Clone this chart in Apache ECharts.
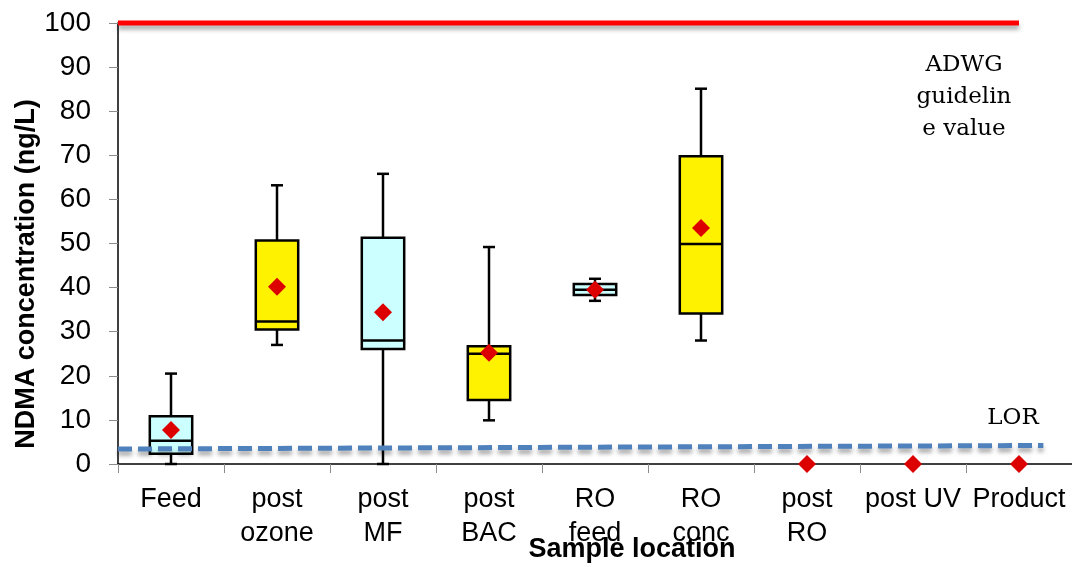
<!DOCTYPE html>
<html>
<head>
<meta charset="utf-8">
<script src="https://cdn.jsdelivr.net/npm/echarts@6/dist/echarts.min.js"></script>
<style>
	html,body{margin:0;padding:0;background:#fff;}
	#chart{width:1072px;height:567px;}
</style>
</head>
<body>
<div id="chart"></div>
<script>
// sample locations
var categories = ['Feed', 'post\nozone', 'post\nMF', 'post\nBAC', 'RO\nfeed', 'RO\nconc', 'post\nRO', 'post UV', 'Product'];

// box values (ng/L), only the first six locations have boxes
var whiskerLow  = [0,    27,   0,    9.9,  37,   28];
var quartile1   = [2.3,  30.5, 26.1, 14.5, 38.3, 34.1];
var medians     = [5.3,  32.3, 28,   25,   39.5, 49.9];
var quartile3   = [10.8, 50.7, 51.3, 26.7, 40.8, 69.8];
var whiskerHigh = [20.5, 63.2, 65.8, 49.2, 42,   85.1];

// mean of every location
var means = [7.7, 40.2, 34.4, 25.2, 39.5, 53.5, 0, 0, 0];

// guideline (ADWG) and limit of reporting lines, x in category index units
var adwgLine = [[-0.5, 100], [8.0, 100]];
var lorLine  = [[-0.5, 3.4], [8.23, 4.2]];

var yTicks = [0, 10, 20, 30, 40, 50, 60, 70, 80, 90, 100];

var boxFill = ['#ccffff', '#fff200'];

var boxData = [];
for (var i = 0; i < whiskerLow.length; i++) {
	boxData.push([i, whiskerLow[i], quartile1[i], medians[i], quartile3[i], whiskerHigh[i]]);
}

function renderBox(params, api)
{
	var idx = api.value(0);
	var lo = api.coord([idx, api.value(1)]);
	var q1 = api.coord([idx, api.value(2)]);
	var md = api.coord([idx, api.value(3)]);
	var q3 = api.coord([idx, api.value(4)]);
	var hi = api.coord([idx, api.value(5)]);
	var half = api.size([1, 0])[0] * 0.2;
	var cap = 6;
	var x = lo[0];
	var stroke = {stroke: '#000', lineWidth: 2.5};
	return {
		type: 'group',
		children: [
			{type: 'line', shape: {x1: x, y1: hi[1], x2: x, y2: q3[1]}, style: stroke},
			{type: 'line', shape: {x1: x, y1: q1[1], x2: x, y2: lo[1]}, style: stroke},
			{type: 'line', shape: {x1: x - cap, y1: hi[1], x2: x + cap, y2: hi[1]}, style: stroke},
			{type: 'line', shape: {x1: x - cap, y1: lo[1], x2: x + cap, y2: lo[1]}, style: stroke},
			{type: 'rect', shape: {x: x - half, y: q3[1], width: half * 2, height: q1[1] - q3[1]},
				style: {fill: boxFill[idx % 2], stroke: '#000', lineWidth: 2.5}},
			{type: 'line', shape: {x1: x - half, y1: md[1], x2: x + half, y2: md[1]}, style: stroke}
		]
	};
}

var myChart = echarts.init(document.getElementById('chart'));
var option = {
	backgroundColor: '#fff',
	animation: false,
	grid: {left: 118, right: 0, top: 23, bottom: 103},
	xAxis: [
		{
			type: 'category',
			data: categories,
			boundaryGap: true,
			axisLine: {lineStyle: {color: '#000', width: 1.5}},
			axisTick: {show: true, length: 9, lineStyle: {color: '#8c8c8c'}},
			axisLabel: {
				interval: 0, margin: 19, color: '#000',
				fontFamily: 'Liberation Sans', fontSize: 27, lineHeight: 34
			},
			splitLine: {show: false}
		},
		{
			type: 'value', min: -0.5, max: 8.5, show: false
		}
	],
	yAxis: {
		type: 'value', min: 0, max: 100, interval: 10,
		axisLine: {show: true, onZero: false, lineStyle: {color: '#000', width: 1.5}},
		axisTick: {show: true, length: 9, lineStyle: {color: '#8c8c8c'}},
		axisLabel: {
			margin: 27, color: '#000', fontFamily: 'Liberation Sans', fontSize: 28,
			formatter: function (v) { return yTicks.indexOf(v) >= 0 ? String(v) : ''; }
		},
		splitLine: {show: false}
	},
	series: [
		{
			type: 'custom',
			xAxisIndex: 0,
			renderItem: renderBox,
			data: boxData,
			z: 2
		},
		{
			type: 'scatter',
			xAxisIndex: 0,
			data: means,
			symbol: 'diamond',
			symbolSize: 18,
			itemStyle: {color: '#dd0000', opacity: 1},
			clip: false,
			z: 3
		},
		{
			type: 'line',
			xAxisIndex: 1,
			data: adwgLine,
			symbol: 'none',
			clip: false,
			lineStyle: {color: '#ff0000', width: 5, shadowColor: 'rgba(0,0,0,0.35)', shadowBlur: 4, shadowOffsetY: 4},
			z: 4
		},
		{
			type: 'line',
			xAxisIndex: 1,
			data: lorLine,
			symbol: 'none',
			clip: false,
			lineStyle: {color: '#4f81bd', width: 5, type: [14, 6], shadowColor: 'rgba(0,0,0,0.35)', shadowBlur: 4, shadowOffsetY: 4},
			z: 4
		}
	],
	graphic: [
		{
			type: 'text', x: 27, y: 274, rotation: Math.PI / 2,
			style: {
				text: 'NDMA concentration (ng/L)', fill: '#000',
				font: 'bold 27px "Liberation Sans"', align: 'center', verticalAlign: 'middle'
			}
		},
		{
			type: 'text', x: 632, y: 550,
			style: {
				text: 'Sample location', fill: '#000',
				font: 'bold 27px "Liberation Sans"', align: 'center', verticalAlign: 'middle'
			}
		},
		{
			type: 'text', x: 964, y: 49,
			style: {
				text: 'ADWG\nguidelin\ne value', fill: '#000',
				font: '23px "DejaVu Serif"', lineHeight: 32, align: 'center', verticalAlign: 'top'
			}
		},
		{
			type: 'text', x: 1013, y: 418,
			style: {
				text: 'LOR', fill: '#000',
				font: '23px "DejaVu Serif"', align: 'center', verticalAlign: 'middle'
			}
		}
	]
};
myChart.setOption(option);
</script>
</body>
</html>
